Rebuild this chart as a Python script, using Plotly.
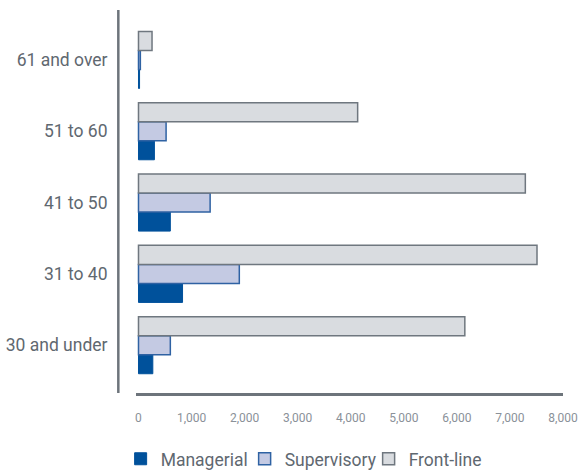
import plotly.graph_objects as go

categories = ["30 and under", "31 to 40", "41 to 50", "51 to 60", "61 and over"]
managerial = [270, 830, 600, 300, 20]
supervisory = [600, 1900, 1350, 520, 35]
frontline = [6150, 7510, 7290, 4130, 255]
tick_vals = [0, 1000, 2000, 3000, 4000, 5000, 6000, 7000, 8000]

W, H = 579, 471
L, R, T, B = 136, 15.5, 10, 78

fig = go.Figure()
fig.add_trace(go.Bar(name="Managerial", y=categories, x=managerial, orientation="h",
                     marker=dict(color="#00519b", line=dict(color="#00519b", width=1))))
fig.add_trace(go.Bar(name="Supervisory", y=categories, x=supervisory, orientation="h",
                     marker=dict(color="#c4cae3", line=dict(color="#2f62a3", width=1.5))))
fig.add_trace(go.Bar(name="Front-line", y=categories, x=frontline, orientation="h",
                     marker=dict(color="#d9dce0", line=dict(color="#6f777f", width=1.5))))

fig.update_layout(
    width=W, height=H,
    margin=dict(l=L, r=R, t=T, b=B, pad=0, autoexpand=False),
    paper_bgcolor="white", plot_bgcolor="white",
    barmode="group", bargap=0.2, bargroupgap=0,
    font=dict(family="Roboto", color="#5f6870"),
    showlegend=True,
    legend=dict(orientation="h", x=-0.036, xanchor="left", y=-0.172, yanchor="middle",
                font=dict(size=17.5, color="#5f6870"), traceorder="normal",
                itemwidth=30, tracegroupgap=0, bgcolor="rgba(0,0,0,0)",
                entrywidth=79, entrywidthmode="pixels"),
    xaxis=dict(range=[-47, 8000], tickvals=tick_vals, tickformat=",",
               showgrid=False, zeroline=False, showline=True, linecolor="#6d747b", linewidth=2.5,
               ticks="outside", ticklen=12, tickcolor="rgba(0,0,0,0)", automargin=False,
               tickfont=dict(size=12, color="#8a9199", family="Roboto")),
    yaxis=dict(type="category", categoryorder="array", categoryarray=categories,
               range=[-0.67, 4.7], showgrid=False, zeroline=False, showline=False,
               ticks="outside", ticklen=24, tickcolor="rgba(0,0,0,0)", automargin=False,
               tickfont=dict(size=17.5, color="#5f6870", family="Roboto")),
)

x_line = (118.3 - L) / (W - L - R)
fig.add_shape(type="line", xref="paper", yref="paper", x0=x_line, x1=x_line, y0=0, y1=1,
              line=dict(color="#6d747b", width=2.5))

fig.write_html("out.html")
